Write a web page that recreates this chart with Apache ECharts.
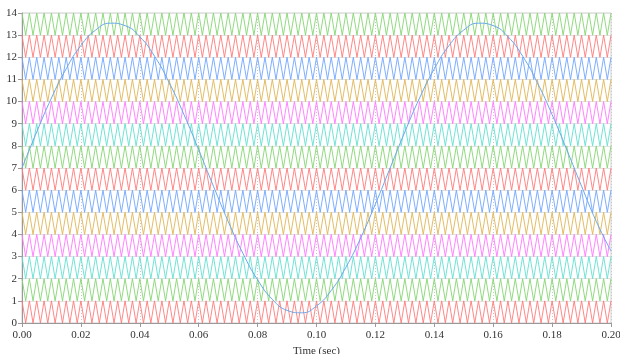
<!DOCTYPE html>
<html>
<head>
<meta charset="utf-8">
<script src="https://cdn.jsdelivr.net/npm/echarts@6/dist/echarts.min.js"></script>
<style>html,body{margin:0;padding:0;background:#fff}#c{width:620px;height:354px}</style>
</head>
<body>
<div id="c"></div>
<script>
// Carrier vertex times (ms): 400 Hz triangle, peaks at multiples of 2.5 ms
const carrierTimesMs = [
0,1.25,2.5,3.75,5,6.25,7.5,8.75,
10,11.25,12.5,13.75,15,16.25,17.5,18.75,
20,21.25,22.5,23.75,25,26.25,27.5,28.75,
30,31.25,32.5,33.75,35,36.25,37.5,38.75,
40,41.25,42.5,43.75,45,46.25,47.5,48.75,
50,51.25,52.5,53.75,55,56.25,57.5,58.75,
60,61.25,62.5,63.75,65,66.25,67.5,68.75,
70,71.25,72.5,73.75,75,76.25,77.5,78.75,
80,81.25,82.5,83.75,85,86.25,87.5,88.75,
90,91.25,92.5,93.75,95,96.25,97.5,98.75,
100,101.25,102.5,103.75,105,106.25,107.5,108.75,
110,111.25,112.5,113.75,115,116.25,117.5,118.75,
120,121.25,122.5,123.75,125,126.25,127.5,128.75,
130,131.25,132.5,133.75,135,136.25,137.5,138.75,
140,141.25,142.5,143.75,145,146.25,147.5,148.75,
150,151.25,152.5,153.75,155,156.25,157.5,158.75,
160,161.25,162.5,163.75,165,166.25,167.5,168.75,
170,171.25,172.5,173.75,175,176.25,177.5,178.75,
180,181.25,182.5,183.75,185,186.25,187.5,188.75,
190,191.25,192.5,193.75,195,196.25,197.5,198.75,
200];
// Carrier vertex heights within a band (1 = top of band, 0 = bottom)
const carrierShape = [
1,0,1,0,1,0,1,0, 1,0,1,0,1,0,1,0, 1,0,1,0,1,0,1,0, 1,0,1,0,1,0,1,0,
1,0,1,0,1,0,1,0, 1,0,1,0,1,0,1,0, 1,0,1,0,1,0,1,0, 1,0,1,0,1,0,1,0,
1,0,1,0,1,0,1,0, 1,0,1,0,1,0,1,0, 1,0,1,0,1,0,1,0, 1,0,1,0,1,0,1,0,
1,0,1,0,1,0,1,0, 1,0,1,0,1,0,1,0, 1,0,1,0,1,0,1,0, 1,0,1,0,1,0,1,0,
1,0,1,0,1,0,1,0, 1,0,1,0,1,0,1,0, 1,0,1,0,1,0,1,0, 1,0,1,0,1,0,1,0,
1];
// Band base levels (bottom to top) and their colours
const carrierLevels = [0,1,2,3,4,5,6,7,8,9,10,11,12,13];
const carrierColors = ['#ff7a7a','#84d672','#62e0d0','#ff78ff','#e0b656','#70a6ff',
                       '#ff7a7a','#84d672','#62e0d0','#ff78ff','#e0b656','#70a6ff',
                       '#ff7a7a','#84d672'];
// Sine reference sampled every 5 ms
const sineTimes = [0,0.005,0.01,0.015,0.02,0.025,0.03,0.035,0.04,0.045,0.05,0.055,0.06,0.065,0.07,0.075,0.08,0.085,0.09,0.095,0.1,
  0.105,0.11,0.115,0.12,0.125,0.13,0.135,0.14,0.145,0.15,0.155,0.16,0.165,0.17,0.175,0.18,0.185,0.19,0.195,0.2];
const sineValues = [7.00,8.63,10.16,11.48,12.53,13.23,13.54,13.43,12.93,12.05,10.85,9.41,7.82,6.18,4.59,3.15,1.95,1.07,0.57,0.46,0.77,
  1.47,2.52,3.84,5.37,7.00,8.63,10.16,11.48,12.53,13.23,13.54,13.43,12.93,12.05,10.85,9.41,7.82,6.18,4.59,3.25];
const xTicks = [0,0.02,0.04,0.06,0.08,0.1,0.12,0.14,0.16,0.18,0.2];

const series = carrierLevels.map((lvl, i) => ({
  type: 'line',
  data: carrierTimesMs.map((t, j) => [t / 1000, lvl + carrierShape[j]]),
  symbol: 'none',
  lineStyle: { color: carrierColors[i], width: 0.9 },
  silent: true,
  z: 2
}));
series.push({
  type: 'line',
  data: sineTimes.map((t, j) => [t, sineValues[j]]),
  symbol: 'none',
  smooth: true,
  lineStyle: { color: '#6aa8ec', width: 1 },
  z: 3
});

const chart = echarts.init(document.getElementById('c'), null, { renderer: 'canvas' });
chart.setOption({
  animation: false,
  backgroundColor: '#fff',
  grid: { left: 22, right: 9, top: 13, bottom: 31, outerBoundsMode: 'none', containLabel: false,
          show: true, borderColor: '#d0d0d0', borderWidth: 1 },
  xAxis: {
    type: 'value', min: 0, max: 0.2, interval: 0.02,
    name: 'Time (sec)', nameLocation: 'middle', nameGap: 18,
    nameTextStyle: { fontFamily: 'Liberation Serif', fontSize: 11, color: '#333' },
    axisLine: { onZero: false, lineStyle: { color: '#999' } },
    axisTick: { show: true, length: 4, lineStyle: { color: '#999' } },
    axisLabel: { fontFamily: 'Liberation Serif', fontSize: 11, color: '#333', margin: 7,
      formatter: v => xTicks.some(t => Math.abs(t - v) < 1e-9) ? v.toFixed(2) : '' },
    splitLine: { show: true, lineStyle: { color: '#c8c8c8', type: [1, 2], width: 1 } }
  },
  yAxis: {
    type: 'value', min: 0, max: 14, interval: 1,
    axisLine: { show: true, onZero: false, lineStyle: { color: '#999' } },
    axisTick: { show: true, length: 4, lineStyle: { color: '#999' } },
    axisLabel: { fontFamily: 'Liberation Serif', fontSize: 11, color: '#333', margin: 5 },
    splitLine: { show: true, lineStyle: { color: '#e2e2e2', width: 1 } }
  },
  series: series
});
</script>
</body>
</html>
